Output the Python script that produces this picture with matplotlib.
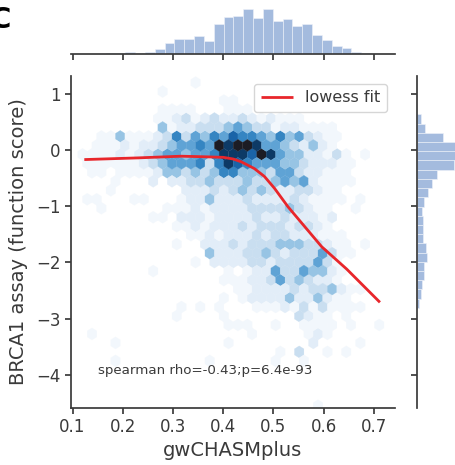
import numpy as np
import matplotlib
matplotlib.use("Agg")
import matplotlib.pyplot as plt
from matplotlib.colors import ListedColormap

# ---------------- data ----------------
# top marginal histogram of gwCHASMplus
x_hist_start = 0.166
x_hist_width = 0.01957
x_hist_counts = [3, 3, 6, 3, 6, 14, 34, 44, 44, 54, 39, 90, 112, 115, 134,
                 107, 134, 99, 105, 84, 89, 57, 41, 25, 18, 6, 4]

# right marginal histogram of BRCA1 assay (bins listed from top to bottom)
y_hist_top = 0.635
y_hist_width = 0.164
y_hist_counts = [12, 23, 77, 140, 135, 110, 61, 46, 32, 22, 16, 18, 17, 17,
                 26, 29, 22, 20, 14, 13, 6]

# lowess fit curve
lowess_x = [0.1235, 0.23, 0.316, 0.363, 0.40, 0.42, 0.436, 0.462, 0.482,
            0.502, 0.529, 0.562, 0.596, 0.646, 0.712]
lowess_y = [-0.17, -0.14, -0.11, -0.12, -0.13, -0.16, -0.21, -0.33, -0.47,
            -0.68, -1.01, -1.36, -1.72, -2.12, -2.71]

# hexbin counts (levels), rows from top (k=36) to bottom (k=0)
hex_extent = (0.12, 0.72, -4.55, 1.2)
hex_gridsize = (32, 18)
hex_rows = [
    "000000000000100000000000000000000",
    "00000000100000000000000000000000",
    "000000000000000110000000000000000",
    "00000000111100011100000000000000",
    "000000001123123223212111000000000",
    "00000000412233345433122111100000",
    "001141112363546576654645321100000",
    "01112122345565989985543242100000",
    "111121234554556888798544221310100",
    "11111123455563687655544322211000",
    "011011112443434664443553221110000",
    "00010002022334333433454521111000",
    "000100000002223234343223321100000",
    "11000110001224222322223211110100",
    "001000000111212222333343211001000",
    "00000001102221222232232221200000",
    "000000000011212223233323321000000",
    "00000000000112122232332221110000",
    "000000000010022232333444332110100",
    "00000000000004222334323335311000",
    "000000000000102222332333353100000",
    "00000001000000010122533544210000",
    "000000000000000111223534322100000",
    "00000000000000001122223233421100",
    "000000000000000101222242242110000",
    "00000000001010100011121313111100",
    "000000000010000100000003211010000",
    "00000000000000011100100111101001",
    "010000000000000000100000121000000",
    "00010000000000010000000020000100",
    "000000000000000000000103001010000",
    "00010000000001000000100100000000",
    "000000000000000000000000000000000",
    "00000000000000000000000000000000",
    "000000000000000000000000000000000",
    "00000000000000000000000000000000",
    "000000000000000000000000010000000",
]

hex_colors = ["#f2f7fc", "#e2edf8", "#c9def0", "#97c4e4", "#5fa3d5",
              "#3585c2", "#1a64a8", "#0d3a66", "#1c1c24"]

xticks = [0.1, 0.2, 0.3, 0.4, 0.5, 0.6, 0.7]
yticks = [-4, -3, -2, -1, 0, 1]

# ---------------- build hexbin input from the lattice ----------------
xmin, xmax, ymin, ymax = hex_extent
nx, ny = hex_gridsize
sx = (xmax - xmin) / nx
sy = (ymax - ymin) / ny
nrows = len(hex_rows)
hx, hy, hc = [], [], []
for r, row in enumerate(hex_rows):
    k = nrows - 1 - r
    j, odd = divmod(k, 2)
    yc = ymin + (j + 0.5 * odd) * sy
    for i, ch in enumerate(row):
        v = int(ch)
        if v > 0:
            hx.append(xmin + (i + 0.5 * odd) * sx)
            hy.append(yc)
            hc.append(v)

# ---------------- figure ----------------
W, H = 456, 465
fig = plt.figure(figsize=(W / 100, H / 100), dpi=100)
text_c = "#3a3a3a"
spine_c = "#3a3a3a"

ax = fig.add_axes([71 / W, (H - 408) / H, 324 / W, 332 / H])
ax_top = fig.add_axes([71 / W, (H - 54) / H, 324 / W, 54 / H])
ax_right = fig.add_axes([417 / W, (H - 408) / H, 73 / W, 332 / H])

cmap = ListedColormap(hex_colors)
ax.hexbin(hx, hy, C=hc, gridsize=hex_gridsize, extent=hex_extent,
          reduce_C_function=np.sum, cmap=cmap, vmin=0.5, vmax=9.5,
          linewidths=0.2, edgecolors="face")

ax.plot(lowess_x, lowess_y, color="#e8262b", lw=2.0, label="lowess fit",
        solid_capstyle="butt")

ax.set_xlim(0.097, 0.742)
ax.set_ylim(-4.59, 1.317)
ax.set_xticks(xticks)
ax.set_yticks(yticks)
ax.set_xticklabels([f"{t:.1f}" for t in xticks])
ax.set_yticklabels([f"{t}".replace("-", "\u2212") for t in yticks])
for s in ["top", "right"]:
    ax.spines[s].set_visible(False)
for s in ["left", "bottom"]:
    ax.spines[s].set_color(spine_c)
    ax.spines[s].set_linewidth(1.25)
ax.tick_params(direction="out", length=4, width=1.25, colors=spine_c,
               labelsize=12, labelcolor=text_c)
ax.set_xlabel("gwCHASMplus", fontsize=14, color=text_c, labelpad=3)
ax.set_ylabel("BRCA1 assay (function score)", fontsize=14, color=text_c,
              labelpad=6)

leg = ax.legend(loc="upper right", fontsize=11.5, frameon=True,
                fancybox=True, framealpha=0.8, edgecolor="#cccccc")
for t in leg.get_texts():
    t.set_color(text_c)

ax.text(0.151, -3.93, "spearman rho=-0.43;p=6.4e-93", fontsize=9.6,
        va="center", ha="left", color=text_c)

# top marginal
hist_color = "#a4bbde"
x_edges = [x_hist_start + i * x_hist_width for i in range(len(x_hist_counts))]
ax_top.bar(x_edges, x_hist_counts, width=x_hist_width, align="edge",
           color=hist_color, edgecolor="#eef2f9", linewidth=0.4)
ax_top.set_xlim(ax.get_xlim())
ax_top.set_ylim(0, 162)
ax_top.set_xticks(xticks)
ax_top.set_xticklabels([])
ax_top.set_yticks([])
for s in ["top", "right", "left"]:
    ax_top.spines[s].set_visible(False)
ax_top.spines["bottom"].set_color(spine_c)
ax_top.spines["bottom"].set_linewidth(1.25)
ax_top.tick_params(axis="x", direction="out", length=4, width=1.25,
                   colors=spine_c)
ax_top.patch.set_alpha(0)

# right marginal
y_bottoms = [y_hist_top - (i + 1) * y_hist_width for i in range(len(y_hist_counts))]
ax_right.barh(y_bottoms, y_hist_counts, height=y_hist_width, align="edge",
              color=hist_color, edgecolor="#eef2f9", linewidth=0.4)
ax_right.set_ylim(ax.get_ylim())
ax_right.set_xlim(0, 219)
ax_right.set_yticks(yticks)
ax_right.set_yticklabels([])
ax_right.set_xticks([])
for s in ["top", "right", "bottom"]:
    ax_right.spines[s].set_visible(False)
ax_right.spines["left"].set_color(spine_c)
ax_right.spines["left"].set_linewidth(1.25)
ax_right.tick_params(axis="y", direction="out", length=4, width=1.25,
                     colors=spine_c)
ax_right.patch.set_alpha(0)

fig.text(11 / W, 1 - 6 / H, "C", ha="right", va="top", fontsize=21,
         fontweight="bold", color="black")

fig.savefig("out.png", dpi=100)
